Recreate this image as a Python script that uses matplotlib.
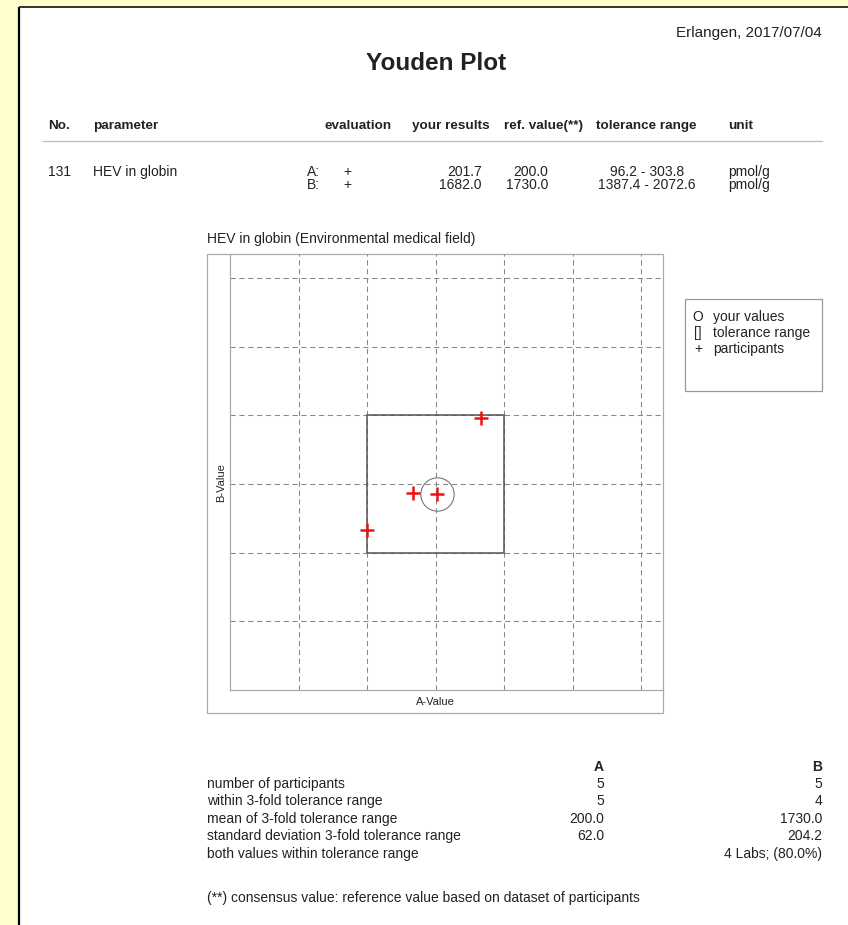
"""Youden plot report page (HEV in globin)."""

import matplotlib

matplotlib.use("Agg")

import matplotlib.pyplot as plt
import numpy as np
from matplotlib.patches import Rectangle

plt.rcParams["font.family"] = ["Liberation Sans", "DejaVu Sans"]

# report header / values
place_date = "Erlangen, 2017/07/04"
title = "Youden Plot"
header_cols = ["No.", "parameter", "evaluation", "your results", "ref. value(**)", "tolerance range", "unit"]
param_no = "131"
param_name = "HEV in globin"
samples = ["A:", "B:"]
evaluations = ["+", "+"]
your_results = [201.7, 1682.0]
ref_values = [200.0, 1730.0]
tol_low = [96.2, 1387.4]
tol_high = [303.8, 2072.6]
units = ["pmol/g", "pmol/g"]

plot_title = "HEV in globin (Environmental medical field)"
legend_lines = [("O", "your values"), ("[]", "tolerance range"), ("+", "participants")]

# participants visible in the plot (A, B)
part_a = [268.2, 165.6, 201.7, 96.3]
part_b = [2058.0, 1684.0, 1682.0, 1501.0]

# summary table
stat_labels = [
    "number of participants",
    "within 3-fold tolerance range",
    "mean of 3-fold tolerance range",
    "standard deviation 3-fold tolerance range",
    "both values within tolerance range",
]
stat_a = ["5", "5", "200.0", "62.0", ""]
stat_b = ["5", "4", "1730.0", "204.2", "4 Labs; (80.0%)"]
footnote = "(**) consensus value: reference value based on dataset of participants"

W, H = 848, 925
TXT = "#222222"
FS = 10

fig = plt.figure(figsize=(W / 100, H / 100), dpi=100, facecolor="#ffffcc")

# page layer in pixel coordinates
page = fig.add_axes([0, 0, 1, 1])
page.set_xlim(0, W)
page.set_ylim(H, 0)
page.axis("off")
page.add_patch(Rectangle((19, 7), W - 19, H - 7, facecolor="white", edgecolor="none"))
page.plot([19, 19], [7, H], color="black", lw=1.6, solid_capstyle="butt")
page.plot([19, W], [7, 7], color="#333333", lw=1.4, solid_capstyle="butt")

page.text(822, 33, place_date, ha="right", va="center", fontsize=11, color=TXT)
page.text(436, 63, title, ha="center", va="center", fontsize=17.5, fontweight="bold", color=TXT)

# header row
hx = [(48, "left"), (93, "left"), (392, "right"), (490, "right"), (583, "right"), (697, "right"), (728, "left")]
for (x, ha), label in zip(hx, header_cols):
    page.text(x, 126, label, ha=ha, va="center", fontsize=9.7, fontweight="bold", color=TXT)
page.plot([43, 822], [141, 141], color="#bbbbbb", lw=0.9)

page.text(48, 172, param_no, ha="left", va="center", fontsize=FS, color=TXT)
page.text(93, 172, param_name, ha="left", va="center", fontsize=FS, color=TXT)
for i, y in enumerate([172, 185]):
    page.text(307, y, samples[i], ha="left", va="center", fontsize=FS, color=TXT)
    page.text(347, y, evaluations[i], ha="center", va="center", fontsize=FS, color=TXT)
    page.text(482, y, f"{your_results[i]:.1f}", ha="right", va="center", fontsize=FS, color=TXT)
    page.text(548, y, f"{ref_values[i]:.1f}", ha="right", va="center", fontsize=FS, color=TXT)
    page.text(647, y, f"{tol_low[i]:.1f} - {tol_high[i]:.1f}", ha="center", va="center", fontsize=FS, color=TXT)
    page.text(728, y, units[i], ha="left", va="center", fontsize=FS, color=TXT)

# plot frame, title and labels
page.text(207, 239, plot_title, ha="left", va="center", fontsize=FS, color=TXT)
page.add_patch(Rectangle((207, 254), 456, 459, facecolor="none", edgecolor="#aaaaaa", lw=0.9))
page.text(221, 483, "B-Value", ha="center", va="center", rotation=90, fontsize=8, color=TXT)
page.text(435, 702, "A-Value", ha="center", va="center", fontsize=8, color=TXT)

# legend box
page.add_patch(Rectangle((685, 299), 137, 92, facecolor="white", edgecolor="#999999", lw=0.9))
for i, (sym, lab) in enumerate(legend_lines):
    y = 317 + 16 * i
    page.text(698, y, sym, ha="center", va="center", fontsize=FS, color=TXT)
    page.text(713, y, lab, ha="left", va="center", fontsize=FS, color=TXT)

# summary table
page.text(604, 767, "A", ha="right", va="center", fontsize=FS, fontweight="bold", color=TXT)
page.text(822, 767, "B", ha="right", va="center", fontsize=FS, fontweight="bold", color=TXT)
for i, lab in enumerate(stat_labels):
    y = 784 + 17.4 * i
    page.text(207, y, lab, ha="left", va="center", fontsize=FS, color=TXT)
    page.text(604, y, stat_a[i], ha="right", va="center", fontsize=FS, color=TXT)
    page.text(822, y, stat_b[i], ha="right", va="center", fontsize=FS, color=TXT)
page.text(207, 898, footnote, ha="left", va="center", fontsize=FS, color=TXT)

# Youden plot axes
left, right, top, bottom = 230, 663, 254, 690
ax = fig.add_axes([left / W, 1 - bottom / H, (right - left) / W, (bottom - top) / H])
ax.set_facecolor("none")

half_a = (tol_high[0] - tol_low[0]) / 2
half_b = (tol_high[1] - tol_low[1]) / 2
steps = np.arange(-2, 4)
ax.set_xticks(ref_values[0] + half_a * steps)
ax.set_yticks(ref_values[1] + half_b * steps)
ax.set_xlim(ref_values[0] - 3 * half_a, ref_values[0] + 3.32 * half_a)
ax.set_ylim(ref_values[1] - 3 * half_b, ref_values[1] + 3.35 * half_b)
ax.grid(True, color="#888888", lw=0.75, ls=(0, (5, 3.5)))
ax.tick_params(length=0, labelbottom=False, labelleft=False)
for side in ["top", "right"]:
    ax.spines[side].set_visible(False)
for side in ["left", "bottom"]:
    ax.spines[side].set_color("#aaaaaa")
    ax.spines[side].set_linewidth(0.9)

ax.add_patch(
    Rectangle(
        (tol_low[0], tol_low[1]),
        tol_high[0] - tol_low[0],
        tol_high[1] - tol_low[1],
        facecolor="none",
        edgecolor="#555555",
        lw=1.1,
        zorder=3,
    )
)
ax.plot(your_results[0], your_results[1], "o", ms=24, mfc="none", mec="#777777", mew=0.8, zorder=4)
ax.plot(part_a, part_b, "+", ms=10, mew=1.8, color="#ee1111", ls="none", zorder=5)

fig.savefig("out.png", dpi=100, facecolor=fig.get_facecolor())
